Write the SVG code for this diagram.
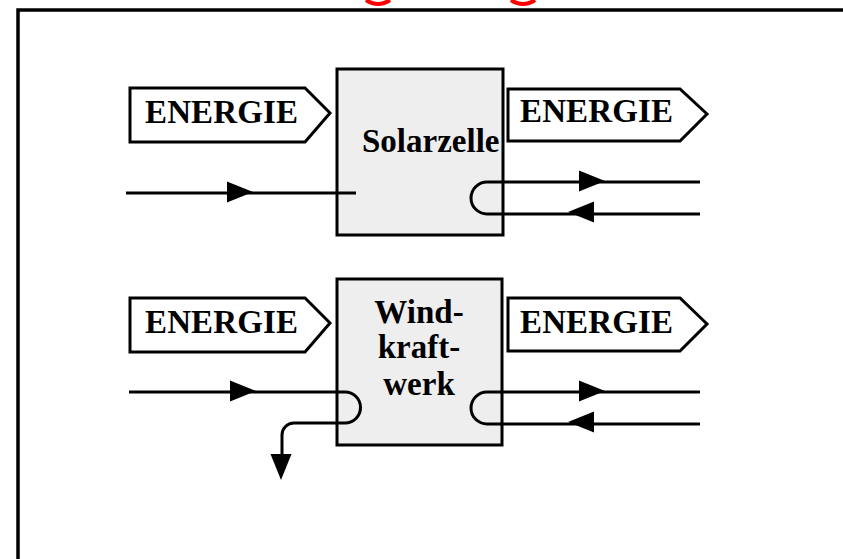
<svg xmlns="http://www.w3.org/2000/svg" xmlns:xlink="http://www.w3.org/1999/xlink" width="843" height="559" viewBox="0 0 843 559">
<style>
  .frame{fill:none;stroke:#000;stroke-width:3.5}
  .tag{fill:#fff;stroke:#000;stroke-width:3}
  .box{fill:#eeeeee;stroke:#000;stroke-width:3}
  .ln{fill:none;stroke:#000;stroke-width:3}
  .ah{fill:#000;stroke:none}
  .t{font-family:"Liberation Serif","Times New Roman",serif;font-weight:bold;font-size:33px;fill:#000}
  .red{fill:none;stroke:#f00;stroke-width:4}
</style>
<defs>
  <path id="arr" d="M0,-10.5 L26,0 L0,10.5 Z"/>
</defs>
<rect width="843" height="559" fill="#fff"/>
<g id="title-fragments">
  <path class="red" d="M366,0 Q378,8 390,0"/>
  <path class="red" d="M511,0 Q523,8 535,0"/>
</g>
<path class="frame" d="M18,559 L18,10 L843,10"/>

<g id="connectors">
  <!-- Solarzelle input -->
  <path class="ln" d="M126,193 L356,193"/>
  <use xlink:href="#arr" class="ah" transform="translate(227,192)"/>
  <!-- Solarzelle output loop -->
  <path class="ln" d="M700,182 L487,182 A16,16 0 0 0 487,214 L700,214"/>
  <use xlink:href="#arr" class="ah" transform="translate(579,181)"/>
  <use xlink:href="#arr" class="ah" transform="translate(594,212) scale(-1,1)"/>
  <!-- Windkraftwerk input loop -->
  <path class="ln" d="M129,392 L345,392 A15.5,15.5 0 0 1 345,423 L294,423 A12,12 0 0 0 282,435 L282,456"/>
  <use xlink:href="#arr" class="ah" transform="translate(230,391)"/>
  <use xlink:href="#arr" class="ah" transform="translate(281,454) rotate(90)"/>
  <!-- Windkraftwerk output loop -->
  <path class="ln" d="M700,392 L487,392 A16,16 0 0 0 487,424 L700,424"/>
  <use xlink:href="#arr" class="ah" transform="translate(579,391)"/>
  <use xlink:href="#arr" class="ah" transform="translate(594,422) scale(-1,1)"/>
</g>

<g id="solar-in-energy">
  <path class="tag" d="M130,88 L305,88 L330,113 L305,142 L130,142 Z"/>
  <text class="t" x="145" y="123" textLength="153">ENERGIE</text>
</g>
<g id="solarzelle">
  <rect class="box" x="337" y="69" width="166" height="166"/>
  <text class="t" x="362" y="152">Solarzelle</text>
</g>
<g id="solar-out-energy">
  <path class="tag" d="M508,89 L680,89 L707,114 L680,141 L508,141 Z"/>
  <text class="t" x="520" y="122" textLength="153">ENERGIE</text>
</g>

<g id="wind-in-energy">
  <path class="tag" d="M130,298 L305,298 L330,323 L305,352 L130,352 Z"/>
  <text class="t" x="145" y="333" textLength="153">ENERGIE</text>
</g>
<g id="windkraftwerk">
  <rect class="box" x="337" y="279" width="165" height="166"/>
  <text class="t" x="419" y="323" text-anchor="middle">Wind-</text>
  <text class="t" x="419" y="358" text-anchor="middle">kraft-</text>
  <text class="t" x="419" y="395" text-anchor="middle">werk</text>
</g>
<g id="wind-out-energy">
  <path class="tag" d="M508,298 L680,298 L707,324 L680,351 L508,351 Z"/>
  <text class="t" x="520" y="333" textLength="153">ENERGIE</text>
</g>

<!-- redraw line segments over boxes where they cross -->
<g id="connectors-over">
  <path class="ln" d="M337,193 L356,193"/>
  <path class="ln" d="M503,182 L487,182 A16,16 0 0 0 487,214 L503,214"/>
  <path class="ln" d="M337,392 L345,392 A15.5,15.5 0 0 1 345,423 L337,423"/>
  <path class="ln" d="M502,392 L487,392 A16,16 0 0 0 487,424 L502,424"/>
</g>
</svg>
